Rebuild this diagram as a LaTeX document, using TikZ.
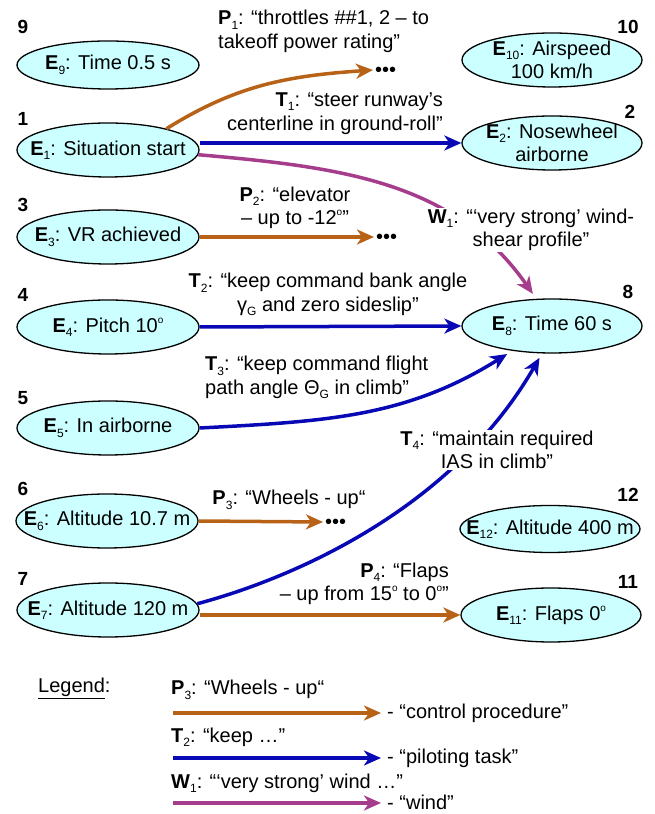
\documentclass[tikz,border=0pt]{standalone}
\usepackage{fontspec}
\setmainfont{Liberation Sans}
\usetikzlibrary{arrows.meta,shapes.geometric}
\definecolor{cbrown}{RGB}{184,98,24}
\definecolor{cblue}{RGB}{8,8,180}
\definecolor{cpurple}{RGB}{165,60,140}
\definecolor{evfill}{RGB}{204,255,255}
\newcommand\sbs[1]{\raisebox{-0.22em}{\fontsize{12}{12}\selectfont #1}}
\newcommand\lbl[2]{\textbf{#1}\sbs{#2}}
\newcommand\dg{\raisebox{0.45em}{\fontsize{10}{10}\selectfont o}}
\begin{document}
\begin{tikzpicture}[x=1pt,y=1pt,font=\fontsize{20}{23.5}\selectfont,
  ev/.style={ellipse, draw=black, line width=1.3pt, fill=evfill, minimum width=182pt, minimum height=54pt, inner sep=0pt},
  num/.style={font=\fontsize{19}{19}\selectfont\bfseries, inner sep=0pt},
  lab/.style={inner sep=1pt},
  dotsn/.style={inner sep=2pt, text height=14pt, text depth=0pt, anchor=west},
  arr/.style={line width=3.5pt, -{Stealth[length=17pt,width=15pt,inset=5pt]}},
  proc/.style={arr, draw=cbrown},
  task/.style={arr, draw=cblue},
  wind/.style={arr, draw=cpurple}]
\useasboundingbox (0,0) rectangle (654,814);

% events, left column
\node[ev, minimum height=48pt, label={center:{\lbl{E}{9}: Time 0.5 s}}] (e9) at (108,749) {};
\node[ev, label={center:{\lbl{E}{1}: Situation start}}] (e1) at (108,664) {};
\node[ev, label={center:{\lbl{E}{3}: VR achieved}}] (e3) at (108,577) {};
\node[ev, label={center:{\lbl{E}{4}: Pitch 10\dg}}] (e4) at (108,487) {};
\node[ev, label={center:{\lbl{E}{5}: In airborne}}] (e5) at (108,386) {};
\node[ev, label={center:{\lbl{E}{6}: Altitude 10.7 m}}] (e6) at (107,293) {};
\node[ev, label={center:{\lbl{E}{7}: Altitude 120 m}}] (e7) at (108,204) {};
% events, right column
\node[ev, minimum width=180pt, label={[align=center]center:{\lbl{E}{10}: Airspeed\\100 km/h}}] (e10) at (552,754) {};
\node[ev, minimum width=180pt, label={[align=center]center:{\lbl{E}{2}: Nosewheel\\airborne}}] (e2) at (552,671) {};
\node[ev, minimum width=180pt, label={center:{\lbl{E}{8}: Time 60 s}}] (e8) at (552,488) {};
\node[ev, minimum width=180pt, minimum height=47pt, label={center:{\lbl{E}{12}: Altitude 400 m}}] (e12) at (550,285) {};
\node[ev, minimum width=180pt, label={center:{\lbl{E}{11}: Flaps 0\dg}}] (e11) at (551,199) {};

% numbers
\node[num] (n9) at (23,787) {9};
\node[num] (n1) at (23,695) {1};
\node[num] (n3) at (23,609) {3};
\node[num] (n4) at (23,519) {4};
\node[num] (n5) at (23,416) {5};
\node[num] (n6) at (23,325) {6};
\node[num] (n7) at (23,235) {7};
\node[num] (n10) at (628,787) {10};
\node[num] (n2) at (630,702) {2};
\node[num] (n8) at (628,522) {8};
\node[num] (n12) at (628,319) {12};
\node[num] (n11) at (628,232) {11};

% dots
\node[dotsn] (d1) at (373,744) {•••};
\node[dotsn] (d2) at (374,577) {•••};
\node[dotsn] (d3) at (323,292) {•••};

% connectors
\draw[proc] (e1.20) to[out=32,in=184] (d1.west);
\draw[task] (e1.east |- e2.west) -- (e2.west);
\draw[wind, shorten >=6pt] (e1.-3) to[out=-5,in=125] (e8.120);
\draw[proc] (e3.east) -- (d2.west);
\draw[task] (e4.east) -- (e8.west);
\draw[task, shorten >=6pt] (e5.east) to[out=3,in=212] (e8.212);
\draw[task, shorten >=5pt] (e7.4) .. controls +(15:100) and +(240:180) .. (e8.250);
\draw[proc] (e6.east) -- (d3.west);
\draw[proc] (e7.east |- e11.west) -- (e11.west);

% connector labels
\node[lab, anchor=west, align=left] (lp1) at (217,782.5) {\lbl{P}{1}: “throttles \#\#1, 2 – to\\takeoff power rating”};
\node[lab, anchor=east, align=right] (lt1) at (444,700.5) {\lbl{T}{1}: “steer runway’s\\centerline in ground-roll”};
\node[lab, align=center] (lp2) at (295,606) {\lbl{P}{2}: “elevator\\– up to -12\dg”};
\node[lab, fill=white, align=center] (lw1) at (531,584) {\lbl{W}{1}: “‘very strong’ wind-\\shear profile”};
\node[lab, align=center] (lt2) at (328,519.5) {\lbl{T}{2}: “keep command bank angle\\γ\sbs{G} and zero sideslip”};
\node[lab, anchor=west, align=left] (lt3) at (204,436.5) {\lbl{T}{3}: “keep command flight\\path angle Θ\sbs{G} in climb”};
\node[lab, fill=white, align=center] (lt4) at (497,364) {\lbl{T}{4}: “maintain required\\IAS in climb”};
\node[lab, align=center] (lp3) at (289,314) {\lbl{P}{3}: “Wheels - up“};
\node[lab, anchor=east, align=right] (lp4) at (450,230) {\lbl{P}{4}: “Flaps\\– up from 15\dg{} to 0\dg”};

% legend
\node[lab, anchor=west] (leg) at (37,126) {\underline{Legend}:};
\node[lab, anchor=west] (lg1) at (170,124) {\lbl{P}{3}: “Wheels - up“};
\coordinate (la) at (173,101);
\node[lab, anchor=west, inner sep=2pt] (lgt1) at (385,101) {- “control procedure”};
\draw[proc, shorten >=4pt] (la) -- (lgt1.west);
\node[lab, anchor=west] (lg2) at (170,77) {\lbl{T}{2}: “keep …”};
\coordinate (lb) at (173,56);
\node[lab, anchor=west, inner sep=2pt] (lgt2) at (385,56) {- “piloting task”};
\draw[task, shorten >=4pt] (lb) -- (lgt2.west);
\node[lab, anchor=west] (lg3) at (170,31) {\lbl{W}{1}: “‘very strong’ wind …”};
\coordinate (lc) at (173,11);
\node[lab, anchor=west, inner sep=2pt] (lgt3) at (385,12) {- “wind”};
\draw[wind, shorten >=4pt] (lc) -- (lgt3.west |- lc);
\end{tikzpicture}
\end{document}
